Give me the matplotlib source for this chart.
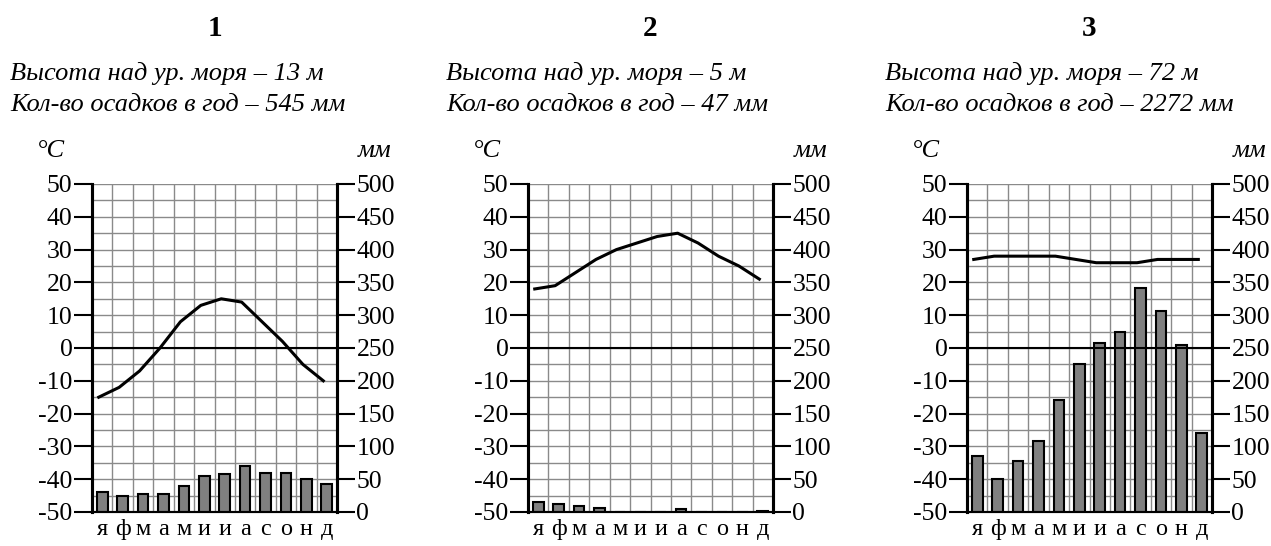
import matplotlib.pyplot as plt
import numpy as np

plt.rcParams['font.family'] = ['Liberation Serif', 'DejaVu Serif']
plt.rcParams['axes.unicode_minus'] = False

W, H = 1271, 546

months = ["я", "ф", "м", "а", "м", "и", "и", "а", "с", "о", "н", "д"]

titles = ["1", "2", "3"]
heights = ["13", "5", "72"]
totals = ["545", "47", "2272"]

temp_1 = [-15, -12, -7, 0, 8, 13, 15, 14, 8, 2, -5, -10]
temp_2 = [18, 19, 23, 27, 30, 32, 34, 35, 32, 28, 25, 21]
temp_3 = [27, 28, 28, 28, 28, 27, 26, 26, 26, 27, 27, 27]

precip_1 = [30, 25, 27, 28, 40, 55, 58, 70, 60, 60, 50, 42]
precip_2 = [15, 12, 9, 6, 0, 0, 0, 4, 0, 0, 0, 1]
precip_3 = [85, 50, 78, 108, 170, 226, 257, 275, 342, 306, 255, 120]

temps = [temp_1, temp_2, temp_3]
precips = [precip_1, precip_2, precip_3]
lefts = [92, 528, 967]

fig = plt.figure(figsize=(W / 100, H / 100), dpi=100)

ax_w, ax_top, ax_bot = 245, 184, 512
x = np.arange(12) + 0.5

for i in range(3):
    l = lefts[i]
    ax = fig.add_axes([l / W, 1 - ax_bot / H, ax_w / W, (ax_bot - ax_top) / H])
    ax.set_xlim(0, 12)
    ax.set_ylim(-50, 50)
    ax.set_yticks(np.arange(-50, 51, 10))
    ax.set_yticks(np.arange(-50, 51, 5), minor=True)
    ax.set_xticks(x)
    ax.set_xticklabels(months, fontsize=17.5)
    ax.set_xticks(np.arange(0, 13), minor=True)
    ax.grid(which="both", color="#8a8a8a", linewidth=1)
    ax.grid(which="major", axis="x", visible=False)
    ax.set_axisbelow(True)
    ax.tick_params(axis="y", which="major", direction="out", length=13, width=1.5,
                   labelsize=18.5, pad=1)
    ax.tick_params(axis="x", which="major", length=0, pad=5)
    ax.tick_params(which="minor", length=0)
    ax.spines["top"].set_visible(False)
    for s in ["left", "right"]:
        ax.spines[s].set_linewidth(2.2)
    ax.spines["bottom"].set_linewidth(1.5)

    ax.plot(x - 0.17, temps[i], color="black", linewidth=2.2, solid_joinstyle="round")

    ax2 = ax.twinx()
    ax2.set_ylim(0, 500)
    ax2.set_yticks(np.arange(0, 501, 50))
    ax2.tick_params(axis="y", direction="out", length=13, width=1.5, labelsize=18.5, pad=1)
    ax2.spines["top"].set_visible(False)
    for s in ["left", "right"]:
        ax2.spines[s].set_linewidth(2.2)
    ax2.spines["bottom"].set_linewidth(1.5)
    ax2.bar(x, precips[i], width=0.52, color="#808080", edgecolor="black", linewidth=1.5)
    ax2.axhline(250, color="black", linewidth=1.5)

    cx = (l + ax_w / 2) / W
    fig.text(cx, 1 - 28 / H, titles[i], ha="center", va="center",
             fontsize=21, fontweight="bold")
    fig.text((l - 82) / W, 1 - 80 / H, f"Высота над ур. моря – {heights[i]} м",
             ha="left", va="baseline", fontsize=19, style="italic")
    fig.text((l - 82) / W, 1 - 111 / H, f"Кол-во осадков в год – {totals[i]} мм",
             ha="left", va="baseline", fontsize=19, style="italic")
    fig.text((l - 55) / W, 1 - 157 / H, "°C", ha="left", va="baseline",
             fontsize=19, style="italic")
    fig.text((l + ax_w + 55) / W, 1 - 157 / H, "мм", ha="right", va="baseline",
             fontsize=19, style="italic")

fig.savefig("out.png", dpi=100)
